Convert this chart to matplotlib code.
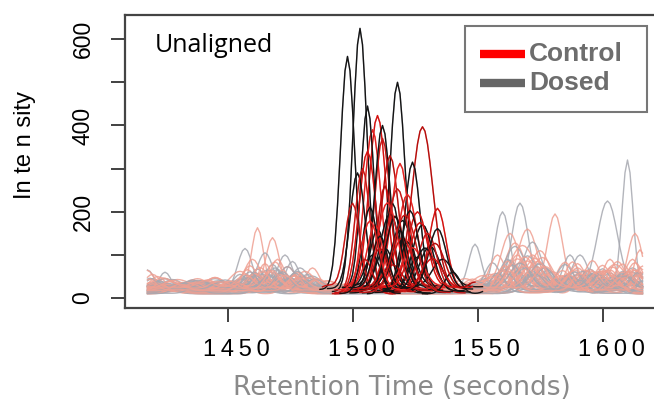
import numpy as np
import matplotlib.pyplot as plt
from matplotlib.lines import Line2D
from matplotlib.patches import Rectangle
from matplotlib.transforms import ScaledTranslation

# chromatogram traces: baseline level, aligned main peak (centre s, height, width s)
# and the other peaks of each trace
control_base = [18, 25, 15, 30, 12, 22, 28, 10, 20, 16, 24, 14, 26, 18, 32, 12, 20, 15, 27, 10, 22, 17,
                21, 13, 25, 17, 19, 23]
control_main = [(1510, 405, 3.4), (1528, 372, 4.2), (1508, 375, 3.3), (1512, 340, 3.0), (1506, 328, 3.4),
                (1515, 308, 3.4), (1519, 284, 3.4), (1504, 290, 3.0), (1534, 188, 3.4), (1513, 244, 3.0),
                (1522, 216, 3.8), (1500, 206, 3.0), (1526, 174, 3.8), (1517, 172, 3.8), (1509, 138, 3.0),
                (1530, 138, 3.8), (1520, 120, 4.0), (1511, 100, 3.5), (1524, 90, 4.0), (1505, 80, 3.0),
                (1532, 70, 4.0), (1516, 60, 4.0), (1514, 200, 4.0), (1521, 180, 4.5), (1527, 150, 4.0),
                (1533, 110, 4.0), (1507, 160, 3.5), (1518, 230, 4.0)]
control_side = [
    [(1462, 145, 2.4), (1565, 110, 4), (1432, 18, 4), (1600, 45, 4), (1585, 25, 3), (1450, 15, 3), (1540, 18, 3), (1612, 30, 2)],
    [(1468, 115, 2.6), (1581, 170, 3), (1425, 20, 3), (1555, 30, 4), (1606, 60, 3), (1490, 15, 3), (1440, 12, 3), (1595, 30, 3)],
    [(1470, 75, 3), (1570, 145, 4), (1440, 25, 3), (1613, 135, 3), (1595, 30, 4), (1455, 20, 3), (1420, 15, 2), (1548, 15, 3)],
    [(1460, 60, 3), (1563, 120, 3.5), (1420, 25, 2.5), (1590, 40, 3), (1480, 20, 4), (1438, 15, 3), (1603, 35, 3), (1545, 15, 3)],
    [(1484, 58, 3), (1575, 98, 4), (1450, 20, 4), (1615, 100, 2.5), (1545, 20, 3), (1428, 18, 3), (1590, 30, 3), (1468, 25, 3)],
    [(1455, 40, 4), (1568, 100, 5), (1436, 20, 3), (1596, 65, 3), (1610, 40, 3), (1475, 25, 3), (1420, 15, 3), (1585, 25, 3)],
    [(1474, 45, 3), (1558, 72, 3), (1585, 55, 3), (1430, 15, 4), (1605, 50, 4), (1445, 20, 3), (1490, 12, 3), (1615, 30, 2)],
    [(1465, 70, 3), (1572, 90, 4), (1603, 80, 3), (1440, 15, 3), (1552, 25, 3), (1425, 20, 3), (1483, 25, 3), (1592, 35, 3)],
    [(1478, 40, 3), (1566, 80, 3.5), (1590, 60, 3), (1422, 30, 3), (1612, 70, 3), (1452, 20, 3), (1437, 15, 3), (1550, 20, 3)],
    [(1458, 50, 3), (1562, 70, 3), (1598, 40, 3), (1445, 20, 3), (1580, 45, 4), (1472, 30, 3), (1425, 15, 3), (1610, 35, 3)],
    [(1469, 60, 3), (1576, 70, 4), (1608, 55, 3), (1418, 40, 2.5), (1548, 20, 3), (1458, 25, 3), (1592, 30, 3), (1432, 12, 3)],
    [(1472, 50, 3), (1564, 65, 4), (1588, 70, 3), (1434, 20, 3), (1616, 60, 3), (1460, 30, 3), (1600, 25, 3), (1490, 15, 3)],
    [(1463, 45, 3), (1570, 60, 4), (1600, 50, 3), (1428, 15, 3), (1556, 25, 3), (1478, 30, 3), (1612, 40, 3), (1442, 15, 3)],
    [(1476, 35, 3), (1574, 55, 3), (1594, 45, 3), (1438, 22, 3), (1610, 30, 3), (1464, 30, 3), (1560, 35, 3), (1420, 15, 3)],
    [(1481, 30, 3), (1567, 50, 3.5), (1604, 40, 3), (1424, 15, 3), (1552, 20, 3), (1461, 25, 3), (1588, 30, 3), (1445, 15, 3)],
    [(1466, 30, 3), (1560, 55, 3), (1584, 40, 3), (1446, 18, 3), (1614, 45, 3), (1474, 25, 3), (1597, 25, 3), (1430, 15, 3)],
    [(1459, 55, 3), (1569, 75, 4), (1602, 45, 3), (1435, 15, 3), (1586, 35, 3), (1477, 20, 3), (1615, 50, 2.5)],
    [(1471, 40, 3), (1561, 60, 3.5), (1593, 50, 3), (1421, 20, 3), (1608, 45, 3), (1452, 15, 3), (1577, 40, 3)],
    [(1467, 35, 3), (1573, 65, 4), (1599, 35, 3), (1442, 15, 3), (1557, 30, 3), (1483, 20, 3), (1613, 55, 3)],
    [(1475, 30, 3), (1565, 45, 3), (1589, 55, 3), (1429, 15, 3), (1605, 30, 3), (1456, 20, 3), (1580, 30, 3)],
    [(1461, 35, 3), (1571, 50, 4), (1596, 40, 3), (1448, 15, 3), (1611, 40, 3), (1486, 20, 3), (1553, 20, 3)],
    [(1479, 30, 3), (1568, 40, 3), (1583, 35, 3), (1426, 15, 3), (1601, 30, 3), (1466, 20, 3), (1614, 35, 3)],
    [(1464, 40, 3), (1566, 70, 4), (1595, 45, 3), (1437, 15, 3), (1610, 35, 3), (1480, 20, 3)],
    [(1470, 35, 3), (1560, 50, 3), (1587, 40, 3), (1423, 20, 3), (1604, 40, 3), (1455, 20, 3)],
    [(1457, 30, 3), (1574, 60, 4), (1598, 35, 3), (1441, 15, 3), (1613, 40, 3), (1486, 20, 3)],
    [(1477, 35, 3), (1563, 45, 3), (1591, 40, 3), (1431, 15, 3), (1607, 30, 3), (1549, 20, 3)],
    [(1468, 45, 3), (1569, 55, 4), (1584, 45, 3), (1419, 25, 2.5), (1616, 40, 2), (1451, 20, 3)],
    [(1473, 30, 3), (1577, 50, 4), (1601, 40, 3), (1446, 15, 3), (1556, 25, 3), (1427, 15, 3)],
]

dosed_base = [15, 20, 25, 10, 30, 18, 22, 12, 28, 16, 20, 14, 24, 18, 26, 12, 20, 15, 27, 10,
              19, 13, 24, 16, 21, 11]
dosed_main = [(1503, 610, 2.8), (1498, 540, 2.8), (1506, 420, 2.6), (1518, 490, 3.0), (1512, 370, 3.0),
              (1524, 297, 3.0), (1502, 268, 3.0), (1515, 183, 4.0), (1520, 152, 4.0), (1528, 154, 4.0),
              (1510, 140, 3.0), (1531, 106, 4.2), (1508, 76, 3.0), (1522, 112, 3.0), (1536, 64, 4.0),
              (1516, 208, 3.0), (1513, 95, 3.5), (1526, 80, 3.5), (1519, 130, 3.0), (1540, 50, 3.0),
              (1517, 170, 3.5), (1523, 190, 3.5), (1511, 120, 3.0), (1529, 100, 4.0), (1534, 140, 3.5),
              (1507, 200, 3.0)]
dosed_side = [
    [(1457, 100, 3), (1567, 205, 3.4), (1425, 45, 2.5), (1590, 40, 3), (1440, 15, 3), (1612, 30, 3), (1478, 20, 3)],
    [(1473, 80, 3), (1560, 180, 3), (1610, 300, 2.2), (1440, 20, 3), (1585, 30, 3), (1455, 25, 3), (1428, 15, 3)],
    [(1465, 80, 3), (1602, 200, 4), (1549, 100, 2.5), (1418, 40, 2.5), (1575, 40, 3), (1480, 25, 3), (1440, 15, 3)],
    [(1476, 75, 3), (1572, 120, 4), (1587, 90, 3), (1430, 15, 3), (1460, 30, 3), (1605, 35, 3), (1548, 15, 3)],
    [(1479, 40, 3), (1591, 70, 3), (1565, 90, 4), (1445, 15, 3), (1466, 35, 3), (1612, 40, 3), (1425, 15, 3)],
    [(1468, 60, 3), (1570, 80, 4), (1600, 50, 3), (1422, 20, 3), (1452, 20, 3), (1586, 30, 3), (1556, 20, 3)],
    [(1462, 45, 3), (1556, 60, 3), (1595, 45, 3), (1436, 20, 3), (1477, 30, 3), (1572, 40, 3), (1614, 30, 3)],
    [(1470, 55, 3), (1575, 70, 4), (1608, 50, 3), (1450, 15, 3), (1426, 20, 3), (1560, 30, 3), (1590, 25, 3)],
    [(1474, 45, 3), (1563, 60, 3), (1585, 50, 3), (1428, 15, 3), (1458, 25, 3), (1603, 30, 3), (1446, 12, 3)],
    [(1460, 35, 3), (1568, 55, 4), (1612, 45, 3), (1442, 20, 3), (1482, 25, 3), (1593, 30, 3), (1420, 15, 3)],
    [(1482, 35, 3), (1578, 45, 3), (1598, 40, 3), (1420, 25, 3), (1467, 30, 3), (1559, 25, 3), (1436, 15, 3)],
    [(1466, 40, 3), (1558, 40, 3), (1604, 35, 3), (1434, 15, 3), (1475, 25, 3), (1582, 30, 3), (1616, 25, 2)],
    [(1471, 35, 3), (1573, 50, 4), (1590, 30, 3), (1447, 15, 3), (1456, 20, 3), (1608, 30, 3), (1423, 15, 3)],
    [(1477, 40, 3), (1566, 45, 3), (1615, 40, 3), (1426, 15, 3), (1463, 25, 3), (1588, 30, 3), (1550, 20, 3)],
    [(1463, 30, 3), (1561, 40, 3), (1594, 35, 3), (1438, 15, 3), (1484, 25, 3), (1575, 25, 3), (1607, 25, 3)],
    [(1458, 35, 3), (1570, 40, 4), (1606, 35, 3), (1432, 20, 3), (1472, 30, 3), (1552, 20, 3), (1590, 25, 3)],
    [(1469, 50, 3), (1562, 70, 3), (1597, 40, 3), (1444, 15, 3), (1480, 20, 3), (1610, 35, 3), (1421, 15, 3)],
    [(1455, 40, 3), (1577, 55, 4), (1600, 30, 3), (1430, 15, 3), (1474, 30, 3), (1553, 30, 3), (1615, 25, 2)],
    [(1478, 35, 3), (1564, 50, 3), (1592, 35, 3), (1449, 15, 3), (1461, 25, 3), (1608, 30, 3), (1435, 12, 3)],
    [(1464, 30, 3), (1571, 45, 4), (1588, 40, 3), (1427, 15, 3), (1485, 20, 3), (1603, 25, 3), (1557, 20, 3)],
    [(1461, 40, 3), (1569, 50, 4), (1594, 35, 3), (1433, 15, 3), (1611, 30, 3), (1479, 20, 3)],
    [(1475, 35, 3), (1558, 45, 3), (1586, 40, 3), (1424, 20, 3), (1606, 30, 3), (1453, 20, 3)],
    [(1467, 30, 3), (1575, 55, 4), (1599, 30, 3), (1441, 15, 3), (1614, 35, 2.5), (1485, 20, 3)],
    [(1459, 45, 3), (1562, 40, 3), (1589, 45, 3), (1429, 15, 3), (1603, 25, 3), (1551, 20, 3)],
    [(1472, 40, 3), (1567, 60, 4), (1596, 35, 3), (1419, 25, 2.5), (1609, 30, 3), (1447, 15, 3)],
    [(1480, 30, 3), (1573, 45, 4), (1591, 30, 3), (1437, 15, 3), (1616, 30, 2), (1463, 20, 3)],
]

t_start, t_end = 1418, 1616
x_ticks = [1450, 1500, 1550, 1600]


def trace(t, base, peaks):
    y = np.full_like(t, float(base))
    for c, h, s in peaks:
        y += h * np.exp(-0.5 * ((t - c) / s) ** 2)
    return y


fig = plt.figure(figsize=(6.54, 4.01), dpi=100)
W, H = 654, 401
ax = fig.add_axes([125 / W, 93 / H, (660 - 125) / W, 293 / H])

t = np.arange(t_start, t_end + 1, 1.0)

ctr = [(trace(t, b, [m] + s), m) for b, m, s in zip(control_base, control_main, control_side)]
dos = [(trace(t, b, [m] + s), m) for b, m, s in zip(dosed_base, dosed_main, dosed_side)]

# faded full traces
n = max(len(ctr), len(dos))
for i in range(n):
    if i < len(dos):
        ax.plot(t, dos[i][0], color='#a6a8b0', lw=1.0, alpha=0.85)
    if i < len(ctr):
        ax.plot(t, ctr[i][0], color='#efa092', lw=1.0, alpha=0.85)

# strong colour around each trace's aligned peak
reds = ['#d41010', '#b50c0c', '#e52222', '#c41616']
for i in range(n):
    if i < len(ctr):
        y, (c, h, s) = ctr[i]
        m = np.abs(t - c) <= 4 * s
        ax.plot(t[m], y[m], color=reds[i % 4], lw=1.0)
    if i < len(dos):
        y, (c, h, s) = dos[i]
        m = np.abs(t - c) <= 4 * s
        ax.plot(t[m], y[m], color='#141414', lw=1.0)

ax.set_xlim(1409, 1623)
ax.set_ylim(-23, 656)
ax.spines['right'].set_visible(False)
for s in ['left', 'bottom', 'top']:
    ax.spines[s].set_color('#444444')
    ax.spines[s].set_linewidth(1.6)

ax.set_xticks(x_ticks)
ax.set_xticklabels([])
lab_tr = ax.get_xaxis_transform() + ScaledTranslation(0.09, 0, fig.dpi_scale_trans)
for v in x_ticks:
    ax.text(v, -42 / 293, '\u2009'.join(str(v)), transform=lab_tr, fontsize=17,
            family=['Liberation Sans', 'DejaVu Sans'], ha='center', va='center', clip_on=False)
ax.set_yticks(range(0, 700, 100))
ax.set_yticklabels(['0', '', '200', '', '400', '', '600'],
                   fontsize=16.5, family='Liberation Sans', rotation=90, va='center')
ax.tick_params(axis='both', direction='out', length=10, width=1.3, color='#333333')
ax.tick_params(axis='y', pad=12)

fig.text(25 / W, 1 - 145 / H, 'In te n sity', rotation=90, fontsize=17,
         family='Liberation Sans', ha='center', va='center')
fig.text(402 / W, 1 - 388 / H, 'Retention Time (seconds)', fontsize=19,
         family='DejaVu Sans', color='#8a8a8a', ha='center', va='center')
fig.text(155 / W, 1 - 52 / H, 'Unaligned', fontsize=18, family='Open Sans',
         ha='left', va='baseline')

# legend box
fig.patches.append(Rectangle((465 / W, 1 - 112 / H), (647 - 465) / W, 86 / H,
                             transform=fig.transFigure, facecolor='white',
                             edgecolor='#777777', lw=1.5))
for yy, col, lab in [(54, '#ff0000', 'Control'), (83, '#666666', 'Dosed')]:
    fig.lines.append(Line2D([480 / W, 525 / W], [1 - yy / H] * 2, transform=fig.transFigure,
                            color=col, lw=6, solid_capstyle='butt'))
    fig.text(529 / W, 1 - yy / H, lab, fontsize=19, family='Liberation Sans',
             weight='bold', color='#6d6d6d', ha='left', va='center')

fig.savefig('out.png', dpi=100)
